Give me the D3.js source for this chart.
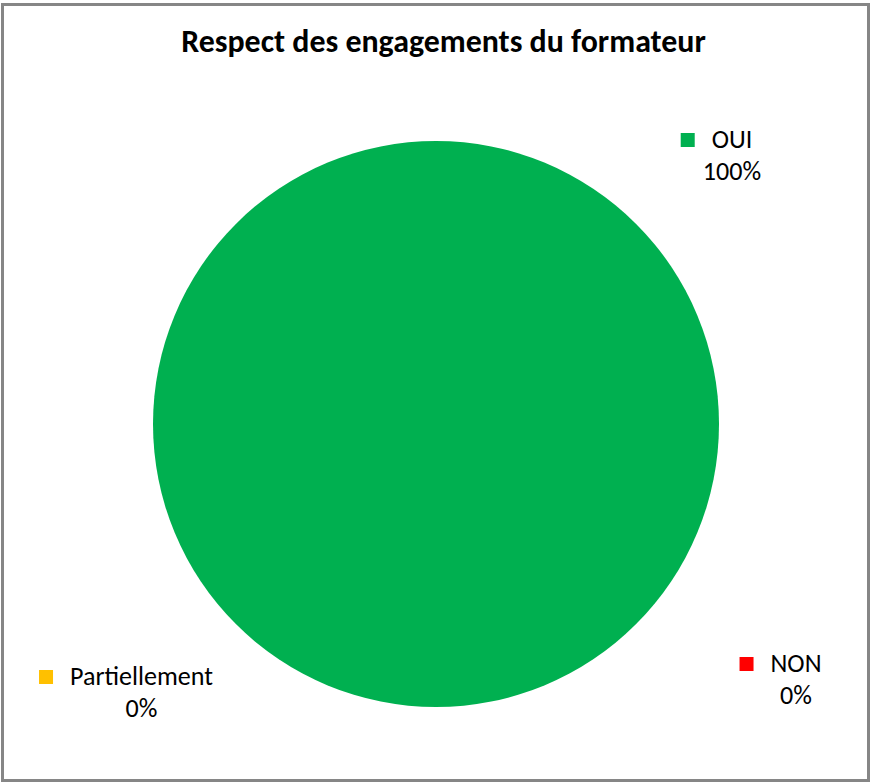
<!DOCTYPE html>
<html>
<head>
<meta charset="utf-8">
<script src="https://cdn.jsdelivr.net/npm/d3@7"></script>
<style>
  html, body { margin: 0; padding: 0; background: #fff; }
  svg { display: block; }
  text { font-family: Carlito, Calibri, Lato, "Open Sans", sans-serif; }
</style>
</head>
<body>
<script>
const categories = ["OUI", "NON", "Partiellement"];
const values = [100, 0, 0];
const colors = ["#00B050", "#FF0000", "#FFC000"];
const title = "Respect des engagements du formateur";

const W = 871, H = 783;
const svg = d3.select("body").append("svg").attr("width", W).attr("height", H);

svg.append("rect").attr("x", 2.5).attr("y", 4.5).attr("width", 866).attr("height", 776)
  .attr("fill", "#fff").attr("stroke", "#868686").attr("stroke-width", 3);

// fit a text's font-size to a target width
function fit(sel, target, base) {
  sel.attr("font-size", base);
  const w = sel.node().getComputedTextLength();
  sel.attr("font-size", base * target / w);
  return sel;
}

const t = svg.append("text").attr("x", 443.5).attr("y", 52).attr("text-anchor", "middle")
  .attr("font-weight", "bold").attr("fill", "#000").text(title);
fit(t, 525, 22);

const cx = 436, cy = 424, r = 283;
const pie = d3.pie().sort(null).value(d => d);
const arcs = pie(values);
const arc = d3.arc().innerRadius(0).outerRadius(r);
const g = svg.append("g").attr("transform", `translate(${cx},${cy})`);
g.selectAll("path").data(arcs).join("path")
  .attr("d", arc).attr("fill", (d, i) => colors[i]);

const total = d3.sum(values);
const fmt = v => Math.round(v / total * 100) + "%";

const probe = svg.append("text").text("Partiellement");
fit(probe, 143, 20);
const fs = +probe.attr("font-size");
probe.remove();

// label layout: name text center x, name baseline y
const labelPos = [
  { x: 732, y: 148 },
  { x: 796, y: 672 },
  { x: 141.5, y: 685 }
];
categories.forEach((c, i) => {
  const p = labelPos[i];
  const tt = svg.append("text").attr("x", p.x).attr("y", p.y).attr("text-anchor", "middle")
    .attr("font-size", fs).attr("fill", "#000").text(c);
  const w = tt.node().getComputedTextLength();
  svg.append("rect").attr("x", p.x - w / 2 - 31).attr("y", p.y - 15)
    .attr("width", 14).attr("height", 14).attr("fill", colors[i]);
  svg.append("text").attr("x", p.x).attr("y", p.y + 32).attr("text-anchor", "middle")
    .attr("font-size", fs).attr("fill", "#000").text(fmt(values[i]));
});
</script>
</body>
</html>
